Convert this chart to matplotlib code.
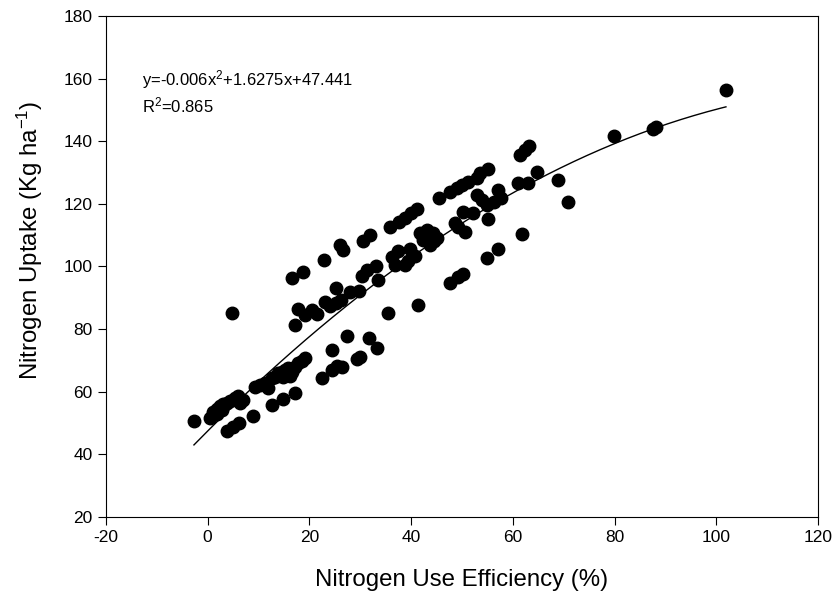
import numpy as np
import matplotlib
matplotlib.use('Agg')
import matplotlib.pyplot as plt

plt.rcParams['font.family'] = ['Liberation Sans', 'DejaVu Sans']
plt.rcParams['mathtext.fontset'] = 'custom'
plt.rcParams['mathtext.rm'] = 'Liberation Sans'
plt.rcParams['mathtext.it'] = 'Liberation Sans'
plt.rcParams['mathtext.default'] = 'regular'
plt.rcParams['axes.unicode_minus'] = False

# Nitrogen use efficiency (%) and nitrogen uptake (kg/ha)
nue = [-2.7, 0.5, 1.0, 1.8, 2.4, 3.0, 3.8, 4.4, 5.4, 6.0, 7.0, 6.4, 1.8, 2.8,
       3.8, 5.0, 6.2, 8.9, 12.7, 14.8, 17.2, 22.5, 24.5, 25.4, 26.4, 24.5,
       27.4, 29.4, 30.0, 31.7, 33.3,
       9.3, 10.3, 11.3, 11.8, 12.6, 13.2, 13.8, 14.6, 15.2, 15.8, 16.6, 17.2,
       17.8, 18.6, 19.1, 16.2, 14.8,
       4.8, 16.6, 18.8, 22.8, 26.0, 26.6, 30.5, 32.0,
       17.8, 19.1, 20.5, 21.5, 23.0, 24.0, 25.2, 26.2, 17.2,
       25.2, 28.0, 29.8, 30.4, 31.4, 33.0, 33.5, 35.5, 41.3,
       35.8, 37.6, 38.8, 39.9, 41.1, 45.5,
       36.3, 37.5, 39.8, 40.8, 36.9, 38.8, 39.4,
       41.8, 43.1, 44.3, 45.1, 43.7, 42.3, 44.5,
       47.7, 49.0, 50.0, 51.2, 53.0, 53.6, 55.1,
       53.0, 54.0, 55.0, 56.3, 57.1, 57.6, 55.1,
       50.2, 52.2, 48.7, 49.2, 50.6, 61.8, 57.1, 54.9,
       47.7, 49.2, 50.2,
       61.4, 62.4, 63.2, 64.7, 68.8, 70.9, 61.0, 63.0,
       79.9, 87.6, 88.2, 101.9]
uptake = [50.5, 51.5, 53.5, 54.5, 55.5, 56.0, 56.5, 57.0, 58.0, 58.5, 57.5, 56.5, 53.0, 54.0,
          47.4, 48.6, 49.9, 52.2, 55.7, 57.6, 59.5, 64.5, 66.9, 68.2, 67.8, 73.3,
          77.8, 70.5, 71.0, 77.1, 73.9,
          61.4, 62.1, 62.7, 61.1, 64.3, 64.6, 65.9, 66.2, 66.9, 67.5, 66.2, 67.8,
          69.1, 69.8, 70.7, 65.0, 64.6,
          85.1, 96.3, 98.2, 102.2, 106.8, 105.4, 108.0, 110.2,
          86.4, 84.5, 86.0, 84.8, 88.7, 87.5, 88.2, 89.2, 81.2,
          93.0, 91.8, 92.3, 97.0, 98.8, 100.0, 95.7, 85.0, 87.7,
          112.6, 114.2, 115.6, 117.0, 118.4, 121.9,
          103.0, 105.0, 105.6, 103.5, 100.5, 100.5, 101.6,
          110.7, 111.7, 110.7, 109.1, 106.9, 108.5, 108.0,
          123.8, 125.1, 126.1, 127.0, 128.3, 129.9, 131.0,
          122.9, 121.3, 119.7, 120.6, 124.5, 122.0, 115.2,
          117.3, 117.1, 113.9, 112.6, 111.0, 110.4, 105.5, 102.7,
          94.7, 96.6, 97.6,
          135.7, 137.3, 138.4, 130.2, 127.5, 120.6, 126.6, 126.6,
          141.8, 144.0, 144.5, 156.5]

# quadratic fit reported on the chart
coef = [-0.006, 1.6275, 47.441]
eq_text = r'y=-0.006x$^2$+1.6275x+47.441'
r2_text = r'R$^2$=0.865'

fig = plt.figure(figsize=(8.37, 5.99), dpi=100)
ax = fig.add_axes([0.1266, 0.137, 0.8507, 0.8363])

ax.plot(nue, uptake, 'o', color='black', markersize=9, zorder=3)

xs = np.linspace(min(nue), max(nue), 200)
ax.plot(xs, np.polyval(coef, xs), color='black', linewidth=1)

ax.text(-13, 159.7, eq_text, fontsize=12, va='center')
ax.text(-13, 151.4, r2_text, fontsize=12, va='center')

ax.set_xlim(-20, 120)
ax.set_ylim(20, 180)
ax.set_xticks(range(-20, 121, 20))
ax.set_yticks(range(20, 181, 20))
ax.tick_params(direction='out', length=6, labelsize=12.5)
ax.set_xlabel('Nitrogen Use Efficiency (%)', fontsize=17.3, labelpad=17)
ax.set_ylabel('Nitrogen Uptake (Kg ha$^{-1}$)', fontsize=17.3)
ax.yaxis.set_label_coords(-0.086, 0.553)

fig.savefig('out.png', dpi=100)
